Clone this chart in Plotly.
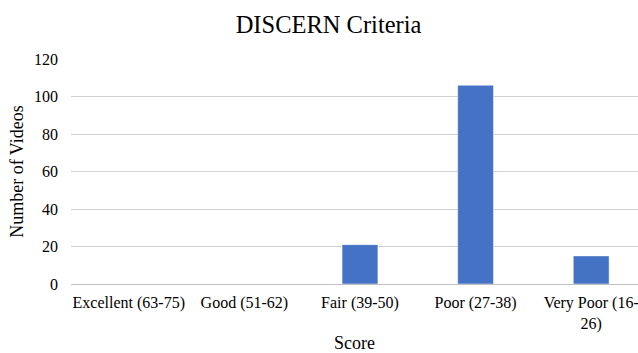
import plotly.graph_objects as go

categories = ["Excellent (63-75)", "Good (51-62)", "Fair (39-50)", "Poor (27-38)", "Very Poor (16-<br>26)"]
videos = [0, 0, 21, 106, 15]

font_family = "Liberation Serif"

fig = go.Figure(
    go.Bar(
        x=list(range(len(categories))),
        y=videos,
        marker=dict(color="#4472C4", line=dict(color="#ffffff", width=0.5)),
        width=0.31,
    )
)

fig.update_layout(
    width=638,
    height=353,
    margin=dict(l=71, r=0, t=59, b=69),
    paper_bgcolor="white",
    plot_bgcolor="white",
    font=dict(family=font_family, color="#000000", size=16),
    showlegend=False,
    title=dict(
        text="DISCERN Criteria",
        x=0.515,
        xanchor="center",
        y=0.93,
        yanchor="middle",
        font=dict(family=font_family, size=24.5, color="#000000"),
    ),
)

fig.update_xaxes(
    tickmode="array",
    tickvals=list(range(len(categories))),
    ticktext=categories,
    range=[-0.5, 4.405],
    showgrid=False,
    showline=True,
    linecolor="#bfbfbf",
    linewidth=1,
    ticks="",
    tickangle=0,
    automargin=False,
    ticklabeloverflow="allow",
    ticklabelstandoff=4,
    tickfont=dict(family=font_family, size=16, color="#000000"),
    title=dict(text="Score", font=dict(family=font_family, size=18, color="#000000"), standoff=6),
)

fig.update_yaxes(
    range=[0, 120],
    dtick=20,
    showgrid=True,
    gridcolor="#d0d0d0",
    gridwidth=1,
    zeroline=False,
    showline=False,
    ticks="",
    automargin=False,
    ticklabelstandoff=12,
    tickfont=dict(family=font_family, size=16, color="#000000"),
    title=dict(text="Number of Videos", font=dict(family=font_family, size=18, color="#000000"), standoff=5),
)

fig.write_html("out.html")
